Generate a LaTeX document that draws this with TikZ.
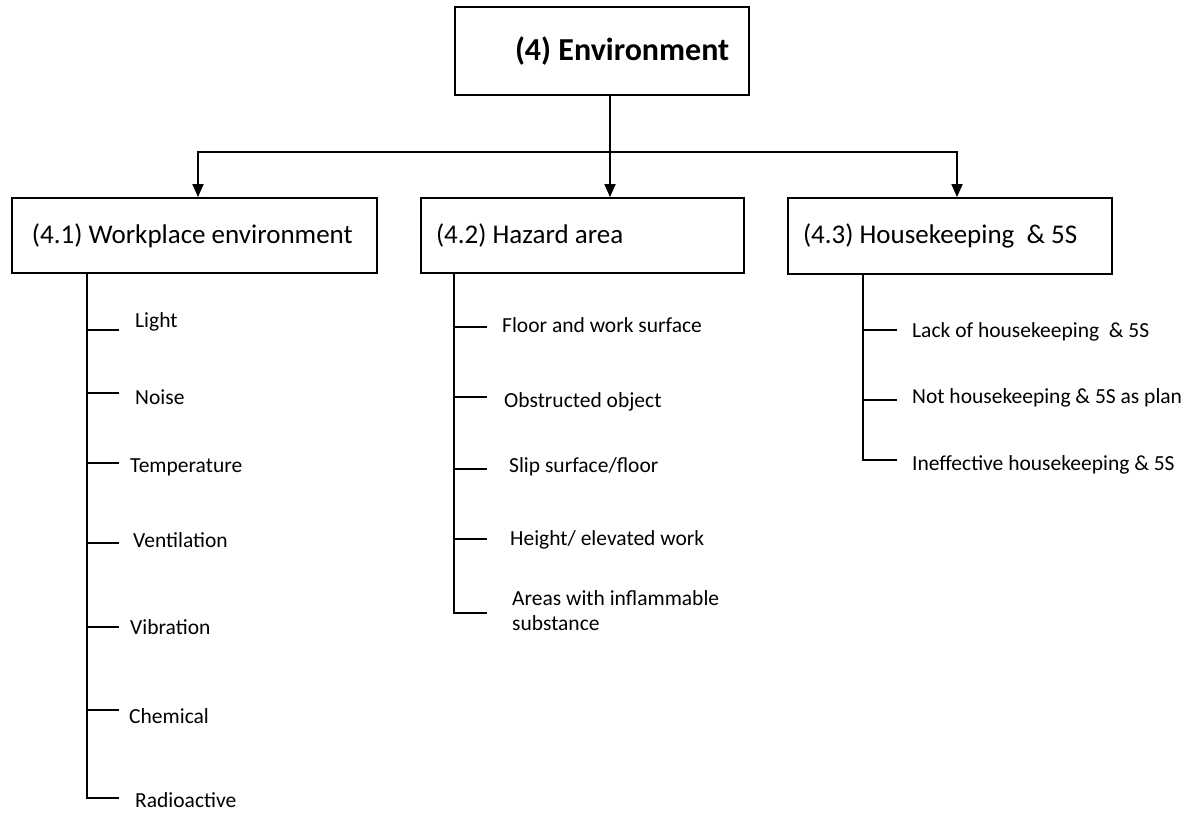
\documentclass[tikz,border=0pt]{standalone}
\usepackage{fontspec}
\setmainfont{Carlito}
\usetikzlibrary{arrows.meta}
% a box label: fixed width, text set flush left after a given indent
\newcommand{\boxlabel}[3]{\makebox[#1][l]{\hspace{#2}#3}}
\begin{document}
\begin{tikzpicture}[x=1pt,y=-1pt,
  line/.style={line width=1.8pt, black},
  arrowline/.style={line, -{Triangle[width=11pt,length=13pt]}},
  box/.style={draw, line width=1.8pt, rectangle, inner sep=0pt},
  item/.style={anchor=west, font=\fontsize{21.5}{25}\selectfont, inner sep=0pt, align=left},
  headfont/.style={font=\fontsize{32}{38}\selectfont\bfseries},
  subfont/.style={font=\fontsize{27}{32}\selectfont}]
\useasboundingbox (0,0) rectangle (1188,813);

% top-level category
\node[box, headfont, minimum height=88pt]
  (top) at (602,51) {\boxlabel{294pt}{60pt}{(4) Environment}};

% sub-categories
\node[box, subfont, minimum height=75pt]
  (b41) at (194.5,235.5) {\boxlabel{365pt}{20pt}{(4.1) Workplace environment}};
\node[box, subfont, minimum height=75pt]
  (b42) at (582.5,235.5) {\boxlabel{323pt}{15pt}{(4.2) Hazard area}};
\node[box, subfont, minimum height=76pt]
  (b43) at (950,236) {\boxlabel{324pt}{15pt}{(4.3) Housekeeping\hspace{0.45em}\& 5S}};

% distribution bus
\coordinate (hub) at (610,152);
\coordinate (bl) at (198,152);
\coordinate (br) at (957,152);
\draw[line] (top.south -| hub) -- (hub);
\draw[arrowline] (hub) -- (b42.north -| hub);
\draw[arrowline] (hub) -- (bl) -- (b41.north -| bl);
\draw[arrowline] (hub) -- (br) -- (b43.north -| br);

% (4.1) items
\coordinate (t41) at (87,798);
\draw[line] (b41.south -| t41) -- (t41) -- ++(32,0);
\foreach \ty/\ly/\lx/\txt [count=\i] in {
  330/322/135/Light, 393/397/135/Noise, 463/467/130/Temperature,
  543/540/133/Ventilation, 627/627/130/Vibration, 710/716/129/Chemical,
  798/800/135/Radioactive} {
  \node[item] (a\i) at (\lx,\ly) {\txt};
  \coordinate (ta\i) at (87,\ty);
  \draw[line] (ta\i) -- ++(32,0);
}

% (4.2) items
\coordinate (t42) at (454,613);
\draw[line] (b42.south -| t42) -- (t42) -- ++(33,0);
\foreach \ty/\ly/\lx/\txt [count=\i] in {
  327/325/502/{Floor and work surface}, 397/402/504/{Obstructed object},
  469/467/509/{Slip surface/floor}, 539/540/510/{Height/ elevated work}} {
  \node[item] (h\i) at (\lx,\ly) {\txt};
  \coordinate (th\i) at (454,\ty);
  \draw[line] (th\i) -- ++(33,0);
}
\node[item] (h5) at (512,611) {Areas with inflammable\\substance};

% (4.3) items
\coordinate (t43) at (863,460);
\draw[line] (b43.south -| t43) -- (t43) -- ++(34,0);
\foreach \ty/\ly/\txt [count=\i] in {
  330/332/{Lack of housekeeping\hspace{0.45em}\& 5S}, 400/398/{Not housekeeping \& 5S as plan}} {
  \node[item] (k\i) at (912,\ly) {\txt};
  \coordinate (tk\i) at (863,\ty);
  \draw[line] (tk\i) -- ++(34,0);
}
\node[item] (k3) at (912,465) {Ineffective housekeeping \& 5S};
\end{tikzpicture}
\end{document}
